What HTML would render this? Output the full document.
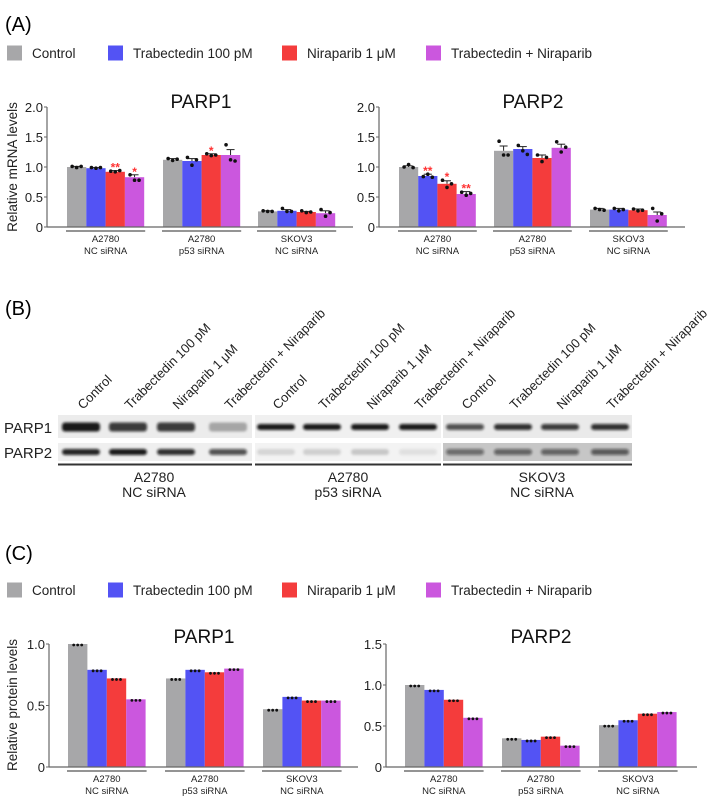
<!DOCTYPE html>
<html><head><meta charset="utf-8">
<style>
body{margin:0;background:#fff;font-family:"Liberation Sans","DejaVu Sans",sans-serif;}
svg text{font-family:"Liberation Sans","DejaVu Sans",sans-serif;}
</style></head>
<body>
<svg id="fig" width="711" height="800" viewBox="0 0 711 800" xmlns="http://www.w3.org/2000/svg">
<defs>
<filter id="blur" x="-20%" y="-80%" width="140%" height="260%"><feGaussianBlur stdDeviation="1.4"/></filter>
</defs>
<text x="5" y="31" font-size="20">(A)</text>
<text x="5" y="315" font-size="20">(B)</text>
<text x="5" y="560" font-size="20">(C)</text>
<g id="legA"></g>
<g id="legC"></g>
<g id="charts"></g>
<g id="blot"></g>
</svg>
<script>
const colors=['#a7a7a9','#5353f4','#f43c3c','#cb57de'];
const seriesNames=['Control','Trabectedin 100 pM','Niraparib 1 μM','Trabectedin + Niraparib'];
const groupLine1=['A2780','A2780','SKOV3'];
const groupLine2=['NC siRNA','p53 siRNA','NC siRNA'];
// Panel A mRNA means [group][series]
const mrnaParp1=[[1.0,0.98,0.92,0.83],[1.12,1.10,1.20,1.20],[0.26,0.27,0.25,0.23]];
const mrnaParp2=[[1.0,0.85,0.72,0.55],[1.27,1.30,1.15,1.32],[0.29,0.29,0.28,0.20]];
const mrnaParp1Err=[[0.01,0.01,0.02,0.04],[0.02,0.04,0.02,0.09],[0.01,0.02,0.01,0.04]];
const mrnaParp2Err=[[0.02,0.03,0.05,0.04],[0.08,0.04,0.05,0.06],[0.02,0.02,0.02,0.05]];
const mrnaParp1Dots=[[[1.01,0.99,1.01],[0.99,0.98,0.99],[0.93,0.92,0.94],[0.87,0.78,0.78]],[[1.14,1.11,1.13],[1.16,1.03,1.12],[1.22,1.19,1.20],[1.37,1.12,1.10]],[[0.27,0.26,0.26],[0.31,0.26,0.26],[0.27,0.24,0.25],[0.29,0.18,0.24]]];
const mrnaParp2Dots=[[[1.0,1.04,0.99],[0.84,0.88,0.83],[0.78,0.66,0.72],[0.58,0.53,0.56]],[[1.43,1.20,1.20],[1.36,1.27,1.21],[1.20,1.09,1.16],[1.42,1.25,1.33]],[[0.31,0.29,0.28],[0.31,0.27,0.29],[0.30,0.27,0.28],[0.31,0.10,0.22]]];
const mrnaParp1Stars=[['','','**','*'],['','','*',''],['','','','']];
const mrnaParp2Stars=[['','**','*','**'],['','','',''],['','','','']];
// Panel C protein
const protParp1=[[1.0,0.79,0.72,0.55],[0.72,0.79,0.77,0.80],[0.47,0.57,0.54,0.54]];
const protParp2=[[1.0,0.94,0.82,0.60],[0.35,0.33,0.37,0.26],[0.51,0.57,0.65,0.67]];
const ticksA=[0,0.5,1.0,1.5,2.0];
const tickLabelsA=['0','0.5','1.0','1.5','2.0'];
const ticksCP1=[0,0.5,1.0];
const tickLabelsCP1=['0','0.5','1.0'];
const ticksCP2=[0,0.5,1.0,1.5];
const tickLabelsCP2=['0','0.5','1.0','1.5'];
const laneLabels=['Control','Trabectedin 100 pM','Niraparib 1 μM','Trabectedin + Niraparib'];
const parp1Band=[0.95,0.8,0.8,0.3,0.95,0.95,0.95,0.95,0.7,0.85,0.8,0.85];
const parp2Band=[0.9,0.95,0.85,0.7,0.12,0.15,0.18,0.08,0.5,0.55,0.55,0.6];

const NS='http://www.w3.org/2000/svg';
function mk(tag,attrs,parent){const e=document.createElementNS(NS,tag);for(const k in attrs)e.setAttribute(k,attrs[k]);parent.appendChild(e);return e;}
const charts=document.getElementById('charts');

function legend(gid,y){
  const g=document.getElementById(gid);
  const xs=[7,108,282,426];
  seriesNames.forEach((n,i)=>{
    const r=mk('rect',{x:xs[i],y:y-7.5,width:15,height:15,fill:colors[i]},g);
    
    
    const t=mk('text',{x:xs[i]+25,y:y+5,'font-size':13.5,fill:'#222'},g);
    t.textContent=n;
    
    
  });
}
legend('legA',53);
legend('legC',590);

function chart(o){
  const g=mk('g',{},charts);
  
  
  const y=v=>o.y0-v*o.scale;
  const ya=mk('line',{x1:o.ax,y1:y(o.ticks[o.ticks.length-1]),x2:o.ax,y2:o.y0,stroke:'#666','stroke-width':1.2},g);
  
  o.ticks.forEach((t,i)=>{
    mk('line',{x1:o.ax-3,x2:o.ax,y1:y(t),y2:y(t),stroke:'#666'},g);
    const tl=mk('text',{x:o.ax-4,y:y(t)+5,'font-size':o.tfs,'text-anchor':'end',fill:'#222'},g);
    tl.textContent=o.tickLabels[i];
    
  });
  const tt=mk('text',{x:o.titleX,y:o.titleY,'font-size':o.titleFs,'text-anchor':'middle',fill:'#111'},g);
  tt.textContent=o.title;
  
  o.data.forEach((grp,gi)=>{
    const gx=o.gx[gi];
    grp.forEach((v,si)=>{
      const bx=gx+si*o.bw;
      const b=mk('rect',{x:bx,y:y(v),width:o.bw,height:o.y0-y(v),fill:colors[si]},g);
      
      
      const cx=bx+o.bw/2;
      if(o.err){
        const e=o.err[gi][si];
        mk('line',{x1:cx,x2:cx,y1:y(v+e),y2:y(v),stroke:'#222','stroke-width':1},g);
        mk('line',{x1:cx-4,x2:cx+4,y1:y(v+e),y2:y(v+e),stroke:'#222','stroke-width':1},g);
      }
      if(o.dots){
        o.dots[gi][si].forEach((d,k)=>{mk('circle',{cx:cx+(k-1)*4.5,cy:y(d),r:1.8,fill:'#111'},g);});
      } else {
        [-4,0,4].forEach(dx=>mk('circle',{cx:cx+dx,cy:y(v)+1,r:1.4,fill:'#111'},g));
      }
      if(o.stars&&o.stars[gi][si]){
        const top=Math.max(...o.dots[gi][si],v+(o.err?o.err[gi][si]:0));
        const s=mk('text',{x:cx,y:y(top)+1,'font-size':12,'text-anchor':'middle',fill:'#f33','font-weight':'bold'},g);
        s.textContent=o.stars[gi][si];
        
      }
    });
    const w=o.bw*4;
    mk('line',{x1:gx-1,x2:gx+w+1,y1:o.y0+4,y2:o.y0+4,stroke:'#555','stroke-width':1.3},g);
    const l1=mk('text',{x:gx+w/2,y:o.y0+15,'font-size':o.gfs,'text-anchor':'middle',fill:'#222'},g);
    l1.textContent=groupLine1[gi];
    
    const l2=mk('text',{x:gx+w/2,y:o.y0+27,'font-size':o.gfs,'text-anchor':'middle',fill:'#222'},g);
    l2.textContent=groupLine2[gi];
    
  });
  const xa=mk('line',{x1:o.ax,x2:o.axEnd,y1:o.y0,y2:o.y0,stroke:'#666','stroke-width':1.2},g);
  
  if(o.ylabel){
    const yl=mk('text',{x:0,y:0,'font-size':13.5,'text-anchor':'middle',fill:'#222',transform:`translate(${o.ylx},${o.yly}) rotate(-90)`},g);
    yl.textContent=o.ylabel;
    
  }
}
chart({name:'mrna-parp1-chart',data:mrnaParp1,err:mrnaParp1Err,dots:mrnaParp1Dots,stars:mrnaParp1Stars,ax:47,axEnd:353,y0:227,scale:60,ticks:ticksA,tickLabels:tickLabelsA,tfs:13,gx:[67,163,258],bw:19.3,title:'PARP1',titleX:201,titleY:108,titleFs:19,gfs:9.5,ylabel:'Relative mRNA levels',ylx:17,yly:167});
chart({name:'mrna-parp2-chart',data:mrnaParp2,err:mrnaParp2Err,dots:mrnaParp2Dots,stars:mrnaParp2Stars,ax:379,axEnd:685,y0:227,scale:60,ticks:ticksA,tickLabels:tickLabelsA,tfs:13,gx:[399,494,590],bw:19.2,title:'PARP2',titleX:533,titleY:108,titleFs:19,gfs:9.5});
chart({name:'protein-parp1-chart',data:protParp1,ax:49,axEnd:358,y0:767,scale:123,ticks:ticksCP1,tickLabels:tickLabelsCP1,tfs:13,gx:[68,166,263],bw:19.4,title:'PARP1',titleX:204,titleY:643,titleFs:19,gfs:9.5,ylabel:'Relative protein levels',ylx:17,yly:705});
chart({name:'protein-parp2-chart',data:protParp2,ax:386,axEnd:697,y0:767,scale:82,ticks:ticksCP2,tickLabels:tickLabelsCP2,tfs:13,gx:[405,502,599],bw:19.4,title:'PARP2',titleX:541,titleY:643,titleFs:19,gfs:9.5});

// Western blot
const blot=document.getElementById('blot');
const segs=[[58,252,'#ececec','#efefef'],[255,441,'#f0f0f0','#f3f3f3'],[443,632,'#eaeaea','#c6c6c6']];
const segCenters=[154,348,542];
segs.forEach(s=>{
  mk('rect',{x:s[0],y:415,width:s[1]-s[0],height:23,fill:s[2]},blot);
  mk('rect',{x:s[0],y:443,width:s[1]-s[0],height:18,fill:s[3]},blot);
});
const laneX=[81,128,176,228,276,322,370,418,465,513,560,610];
parp1Band.forEach((v,i)=>{
  const h=i<4?9:6;
  const b=mk('rect',{x:laneX[i]-19,y:427-h/2,width:38,height:h,rx:3,fill:'#111','fill-opacity':v,filter:'url(#blur)'},blot);
  
});
parp2Band.forEach((v,i)=>{
  const b=mk('rect',{x:laneX[i]-19,y:449,width:38,height:6,rx:3,fill:'#111','fill-opacity':v,filter:'url(#blur)'},blot);
  
});
const bl1=mk('text',{x:4,y:433,'font-size':15,fill:'#222'},blot);bl1.textContent='PARP1';

const bl2=mk('text',{x:4,y:458,'font-size':15,fill:'#222'},blot);bl2.textContent='PARP2';

laneX.forEach((x,i)=>{
  const t=mk('text',{x:0,y:0,'font-size':13,fill:'#222',transform:`translate(${x+2},${410}) rotate(-45)`},blot);
  t.textContent=laneLabels[i%4];
  
});
segs.forEach((s,i)=>{
  mk('line',{x1:s[0],x2:s[1],y1:464.5,y2:464.5,stroke:'#333','stroke-width':2},blot);
  const a=mk('text',{x:segCenters[i],y:482,'font-size':14,'text-anchor':'middle',fill:'#222'},blot);a.textContent=groupLine1[i];
  
  const b=mk('text',{x:segCenters[i],y:497,'font-size':14,'text-anchor':'middle',fill:'#222'},blot);b.textContent=groupLine2[i];
  
});
</script>
</body></html>
